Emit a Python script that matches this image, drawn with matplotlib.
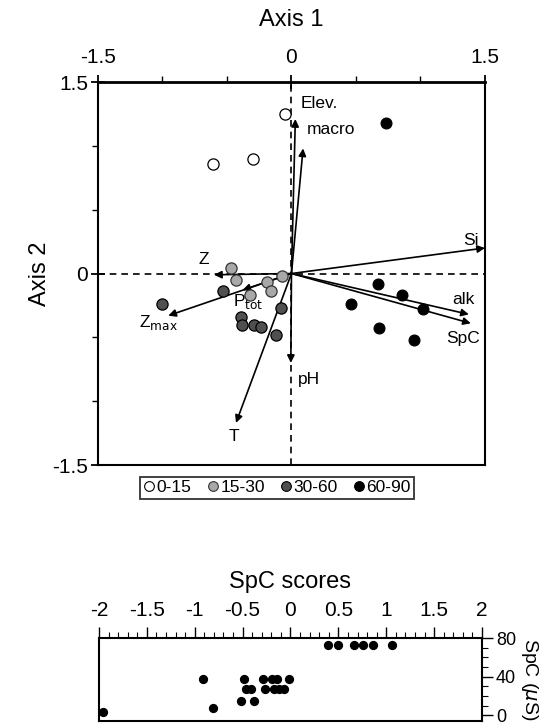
import numpy as np
import matplotlib.pyplot as plt
from matplotlib.lines import Line2D
from matplotlib.ticker import MultipleLocator, FuncFormatter

plt.rcParams['font.family'] = ['Liberation Sans', 'DejaVu Sans']

# ---- site scores (axis 1, axis 2) by depth class ----
open_x = [-0.05, -0.61, -0.30]
open_y = [1.25, 0.86, 0.90]
light_x = [-0.47, -0.43, -0.07, -0.19, -0.16, -0.32]
light_y = [0.04, -0.05, -0.02, -0.07, -0.14, -0.17]
dark_x = [-0.53, -0.39, -0.38, -0.29, -0.24, -0.08, -0.12, -1.00]
dark_y = [-0.14, -0.34, -0.40, -0.40, -0.42, -0.27, -0.48, -0.24]
black_x = [0.73, 0.67, 0.855, 0.46, 1.02, 0.68, 0.95]
black_y = [1.18, -0.08, -0.17, -0.24, -0.28, -0.43, -0.52]

# ---- environmental vectors ----
vec_names = ['Elev.', 'macro', 'Si', 'alk', 'SpC', 'Z', r'Z$_{\mathrm{max}}$',
             r'P$_{\mathrm{tot}}$', 'pH', 'T']
vec_x = [0.03, 0.09, 1.50, 1.375, 1.39, -0.60, -0.955, -0.38, -0.005, -0.43]
vec_y = [1.21, 0.98, 0.20, -0.32, -0.39, -0.01, -0.33, -0.13, -0.70, -1.17]
lab_x = [0.07, 0.12, 1.33, 1.25, 1.20, -0.72, -1.18, -0.45, 0.05, -0.49]
lab_y = [1.33, 1.13, 0.26, -0.20, -0.51, 0.11, -0.38, -0.22, -0.83, -1.28]

# ---- SpC scores vs measured SpC ----
spc_score = [-1.955, -0.914, -0.81,
             -0.483, -0.29, -0.19, -0.138, -0.013,
             -0.465, -0.41, -0.266, -0.172, -0.115, -0.063,
             -0.52, -0.376,
             0.39, 0.50, 0.666, 0.76, 0.865, 1.055]
spc_meas = [3, 38, 7,
            38, 38, 38, 38, 38,
            27, 27, 27, 27, 27, 27,
            15, 15,
            73, 73, 73, 73, 73, 73]

fig = plt.figure(figsize=(5.58, 7.26), dpi=100)

# ===== biplot =====
ax = fig.add_axes([0.1756, 0.3595, 0.6935, 0.5275])
ax.set_xlim(-1.5, 1.5)
ax.set_ylim(-1.5, 1.5)
ax.axhline(0, color='k', ls=(0, (4, 3)), lw=1.2, zorder=1)
ax.axvline(0, color='k', ls=(0, (4, 3)), lw=1.2, zorder=1)

for vx, vy in zip(vec_x, vec_y):
    ax.annotate('', xy=(vx, vy), xytext=(0, 0),
                arrowprops=dict(arrowstyle='-|>', color='k', lw=1.2,
                                mutation_scale=11, shrinkA=0, shrinkB=0),
                zorder=2)
for name, lx, ly in zip(vec_names, lab_x, lab_y):
    ax.text(lx, ly, name, fontsize=12.5, ha='left', va='center')

ax.scatter(open_x, open_y, s=65, facecolor='white', edgecolor='k', lw=0.9, zorder=3)
ax.scatter(light_x, light_y, s=65, facecolor='#a8a8a8', edgecolor='#333', lw=0.9, zorder=3)
ax.scatter(dark_x, dark_y, s=65, facecolor='#505050', edgecolor='k', lw=0.9, zorder=3)
ax.scatter(black_x, black_y, s=60, facecolor='k', edgecolor='k', lw=0.9, zorder=3)

ax.xaxis.tick_top()
ax.xaxis.set_label_position('top')
ax.set_xticks([-1.5, 0, 1.5])
ax.set_yticks([-1.5, 0, 1.5])
ax.xaxis.set_minor_locator(MultipleLocator(0.5))
ax.yaxis.set_minor_locator(MultipleLocator(0.5))
fmt = FuncFormatter(lambda v, p: '0' if abs(v) < 1e-9 else ('%g' % v))
ax.xaxis.set_major_formatter(fmt)
ax.yaxis.set_major_formatter(fmt)
ax.tick_params(which='major', direction='inout', length=10, width=1.3, labelsize=15)
ax.tick_params(axis='x', which='major', pad=6)
ax.tick_params(axis='y', which='major', pad=2)
ax.tick_params(which='minor', direction='out', length=4, width=1.0)
for s in ax.spines.values():
    s.set_linewidth(1.5)
ax.spines['top'].set_linewidth(2.0)
ax.set_xlabel('Axis 1', fontsize=17, labelpad=16)
ax.set_ylabel('Axis 2', fontsize=17, labelpad=1)

handles = [Line2D([], [], ls='', marker='o', ms=7, mfc=c, mec=e, mew=0.8)
           for c, e in [('white', 'k'), ('#a8a8a8', '#333'), ('#505050', 'k'), ('k', 'k')]]
leg = fig.legend(handles, ['0-15', '15-30', '30-60', '60-90'], ncol=4,
                 loc='center', bbox_to_anchor=(0.497, 0.328), fontsize=12.5,
                 frameon=True, fancybox=False, edgecolor='k', borderpad=0.2,
                 handlelength=0.6, handletextpad=0.15, columnspacing=0.9,
                 borderaxespad=0)
leg.get_frame().set_linewidth(1.3)

# ===== SpC scores panel =====
bx = fig.add_axes([0.1774, 0.0069, 0.6864, 0.1143])
bx.scatter(spc_score, spc_meas, s=32, color='k', zorder=3, clip_on=False)
bx.set_xlim(-2, 2)
bx.set_ylim(-6, 80)
bx.xaxis.tick_top()
bx.xaxis.set_label_position('top')
bx.yaxis.tick_right()
bx.yaxis.set_label_position('right')
bx.xaxis.set_major_locator(MultipleLocator(0.5))
bx.xaxis.set_minor_locator(MultipleLocator(0.1))
bx.set_yticks([0, 40, 80])
bx.yaxis.set_minor_locator(MultipleLocator(10))
bx.xaxis.set_major_formatter(fmt)
bx.tick_params(which='major', direction='out', length=8, width=1.0, pad=5)
bx.tick_params(axis='x', labelsize=15)
bx.tick_params(axis='y', labelsize=13, pad=2)
bx.tick_params(which='minor', direction='out', length=4, width=0.8)
for s in bx.spines.values():
    s.set_linewidth(1.5)
bx.set_xlabel('SpC scores', fontsize=17, labelpad=9)
bx.set_ylabel(r'SpC ($\mu$S)', fontsize=14, rotation=270, labelpad=17)

fig.savefig('out.png', dpi=100)
